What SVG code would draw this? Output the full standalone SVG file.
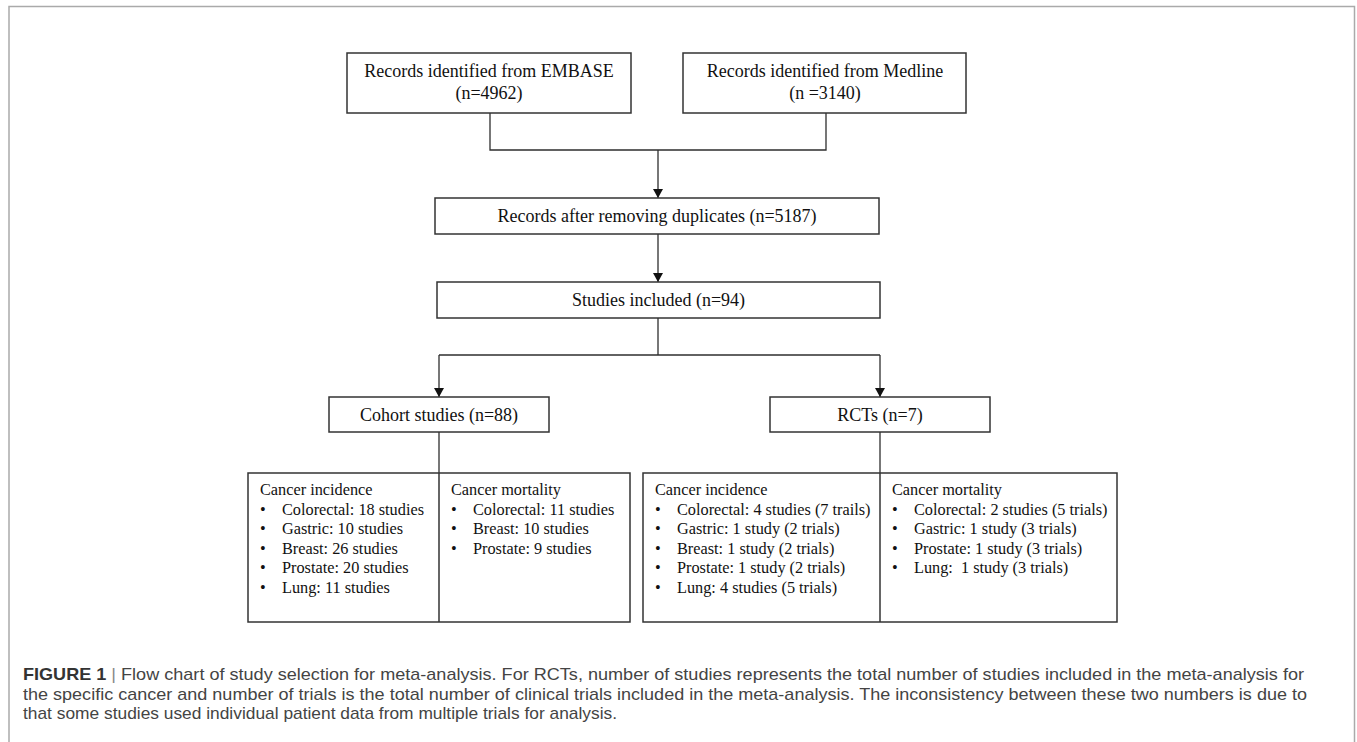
<svg xmlns="http://www.w3.org/2000/svg" width="1357" height="742" viewBox="0 0 1357 742">
<defs>
<style>
.box{fill:#fff;stroke:#333;stroke-width:1.5}
.ln{fill:none;stroke:#2e2e2e;stroke-width:1.3}
.t{font-family:"Liberation Serif","Times New Roman",serif;font-size:18px;fill:#111}
.tc{text-anchor:middle}
.s{font-family:"Liberation Serif","Times New Roman",serif;font-size:16.3px;fill:#111}
.cap{font-family:"Liberation Sans",Arial,sans-serif;font-size:17px;fill:#444}
.capb{font-weight:bold;fill:#333}
.bar{fill:#888}
</style>
<marker id="arr" viewBox="0 0 10 10" refX="10" refY="5" markerWidth="9" markerHeight="10" markerUnits="userSpaceOnUse" orient="auto" preserveAspectRatio="none">
<path d="M0,0 L10,5 L0,10 Z" fill="#111"/>
</marker>
</defs>
<rect x="0" y="0" width="1357" height="742" fill="#fff"/>
<rect x="9" y="6.5" width="1345.5" height="800" fill="none" stroke="#aaa" stroke-width="1.5"/>

<g id="connectors">
<polyline class="ln" points="490,113 490,150 826,150 826,113"/>
<line class="ln" x1="658" y1="150" x2="658" y2="198" marker-end="url(#arr)"/>
<line class="ln" x1="658" y1="234" x2="658" y2="282" marker-end="url(#arr)"/>
<line class="ln" x1="658" y1="318" x2="658" y2="355"/>
<line class="ln" x1="439" y1="355" x2="880" y2="355"/>
<line class="ln" x1="439" y1="355" x2="439" y2="397" marker-end="url(#arr)"/>
<line class="ln" x1="880" y1="355" x2="880" y2="397" marker-end="url(#arr)"/>
<line class="ln" x1="439" y1="432" x2="439" y2="473"/>
<line class="ln" x1="880" y1="432" x2="880" y2="473"/>
</g>

<g id="embase">
<rect class="box" x="347" y="53" width="284" height="60"/>
<text class="t tc" x="489" y="77">Records identified from EMBASE</text>
<text class="t tc" x="489" y="99">(n=4962)</text>
</g>
<g id="medline">
<rect class="box" x="683" y="53" width="283" height="60"/>
<text class="t tc" x="825" y="77">Records identified from Medline</text>
<text class="t tc" x="825" y="99">(n =3140)</text>
</g>
<g id="dedup">
<rect class="box" x="435" y="198" width="444" height="36"/>
<text class="t tc" x="657" y="222">Records after removing duplicates (n=5187)</text>
</g>
<g id="included">
<rect class="box" x="437" y="282" width="443" height="36"/>
<text class="t tc" x="658.5" y="306">Studies included (n=94)</text>
</g>
<g id="cohort">
<rect class="box" x="329" y="397" width="220" height="35"/>
<text class="t tc" x="439" y="421">Cohort studies (n=88)</text>
</g>
<g id="rcts">
<rect class="box" x="770" y="397" width="220" height="35"/>
<text class="t tc" x="880" y="421">RCTs (n=7)</text>
</g>

<g id="cohort-detail">
<rect class="box" x="248" y="473" width="382" height="149"/>
<line class="ln" x1="439" y1="473" x2="439" y2="622" style="stroke:#333;stroke-width:1.5"/>
<text class="s" x="260" y="495">Cancer incidence</text>
<text class="s" x="260" y="514.6">•</text><text class="s" x="282" y="514.6">Colorectal: 18 studies</text>
<text class="s" x="260" y="534.2">•</text><text class="s" x="282" y="534.2">Gastric: 10 studies</text>
<text class="s" x="260" y="553.8">•</text><text class="s" x="282" y="553.8">Breast: 26 studies</text>
<text class="s" x="260" y="573.4">•</text><text class="s" x="282" y="573.4">Prostate: 20 studies</text>
<text class="s" x="260" y="593">•</text><text class="s" x="282" y="593">Lung: 11 studies</text>
<text class="s" x="451" y="495">Cancer mortality</text>
<text class="s" x="451" y="514.6">•</text><text class="s" x="473" y="514.6">Colorectal: 11 studies</text>
<text class="s" x="451" y="534.2">•</text><text class="s" x="473" y="534.2">Breast: 10 studies</text>
<text class="s" x="451" y="553.8">•</text><text class="s" x="473" y="553.8">Prostate: 9 studies</text>
</g>

<g id="rct-detail">
<rect class="box" x="643" y="473" width="474" height="149"/>
<line class="ln" x1="880" y1="473" x2="880" y2="622" style="stroke:#333;stroke-width:1.5"/>
<text class="s" x="655" y="495">Cancer incidence</text>
<text class="s" x="655" y="514.6">•</text><text class="s" x="677" y="514.6">Colorectal: 4 studies (7 trails)</text>
<text class="s" x="655" y="534.2">•</text><text class="s" x="677" y="534.2">Gastric: 1 study (2 trials)</text>
<text class="s" x="655" y="553.8">•</text><text class="s" x="677" y="553.8">Breast: 1 study (2 trials)</text>
<text class="s" x="655" y="573.4">•</text><text class="s" x="677" y="573.4">Prostate: 1 study (2 trials)</text>
<text class="s" x="655" y="593">•</text><text class="s" x="677" y="593">Lung: 4 studies (5 trials)</text>
<text class="s" x="892" y="495">Cancer mortality</text>
<text class="s" x="892" y="514.6">•</text><text class="s" x="914" y="514.6">Colorectal: 2 studies (5 trials)</text>
<text class="s" x="892" y="534.2">•</text><text class="s" x="914" y="534.2">Gastric: 1 study (3 trials)</text>
<text class="s" x="892" y="553.8">•</text><text class="s" x="914" y="553.8">Prostate: 1 study (3 trials)</text>
<text class="s" x="892" y="573.4">•</text><text class="s" x="914" y="573.4" xml:space="preserve">Lung:  1 study (3 trials)</text>
</g>

<g id="caption">
<text class="cap" x="23" y="680" textLength="1281" lengthAdjust="spacingAndGlyphs"><tspan class="capb">FIGURE 1</tspan> <tspan class="bar">|</tspan> Flow chart of study selection for meta-analysis. For RCTs, number of studies represents the total number of studies included in the meta-analysis for</text>
<text class="cap" x="23" y="699.5" textLength="1284" lengthAdjust="spacingAndGlyphs">the specific cancer and number of trials is the total number of clinical trials included in the meta-analysis. The inconsistency between these two numbers is due to</text>
<text class="cap" x="23" y="719" textLength="594" lengthAdjust="spacingAndGlyphs">that some studies used individual patient data from multiple trials for analysis.</text>
</g>
</svg>
